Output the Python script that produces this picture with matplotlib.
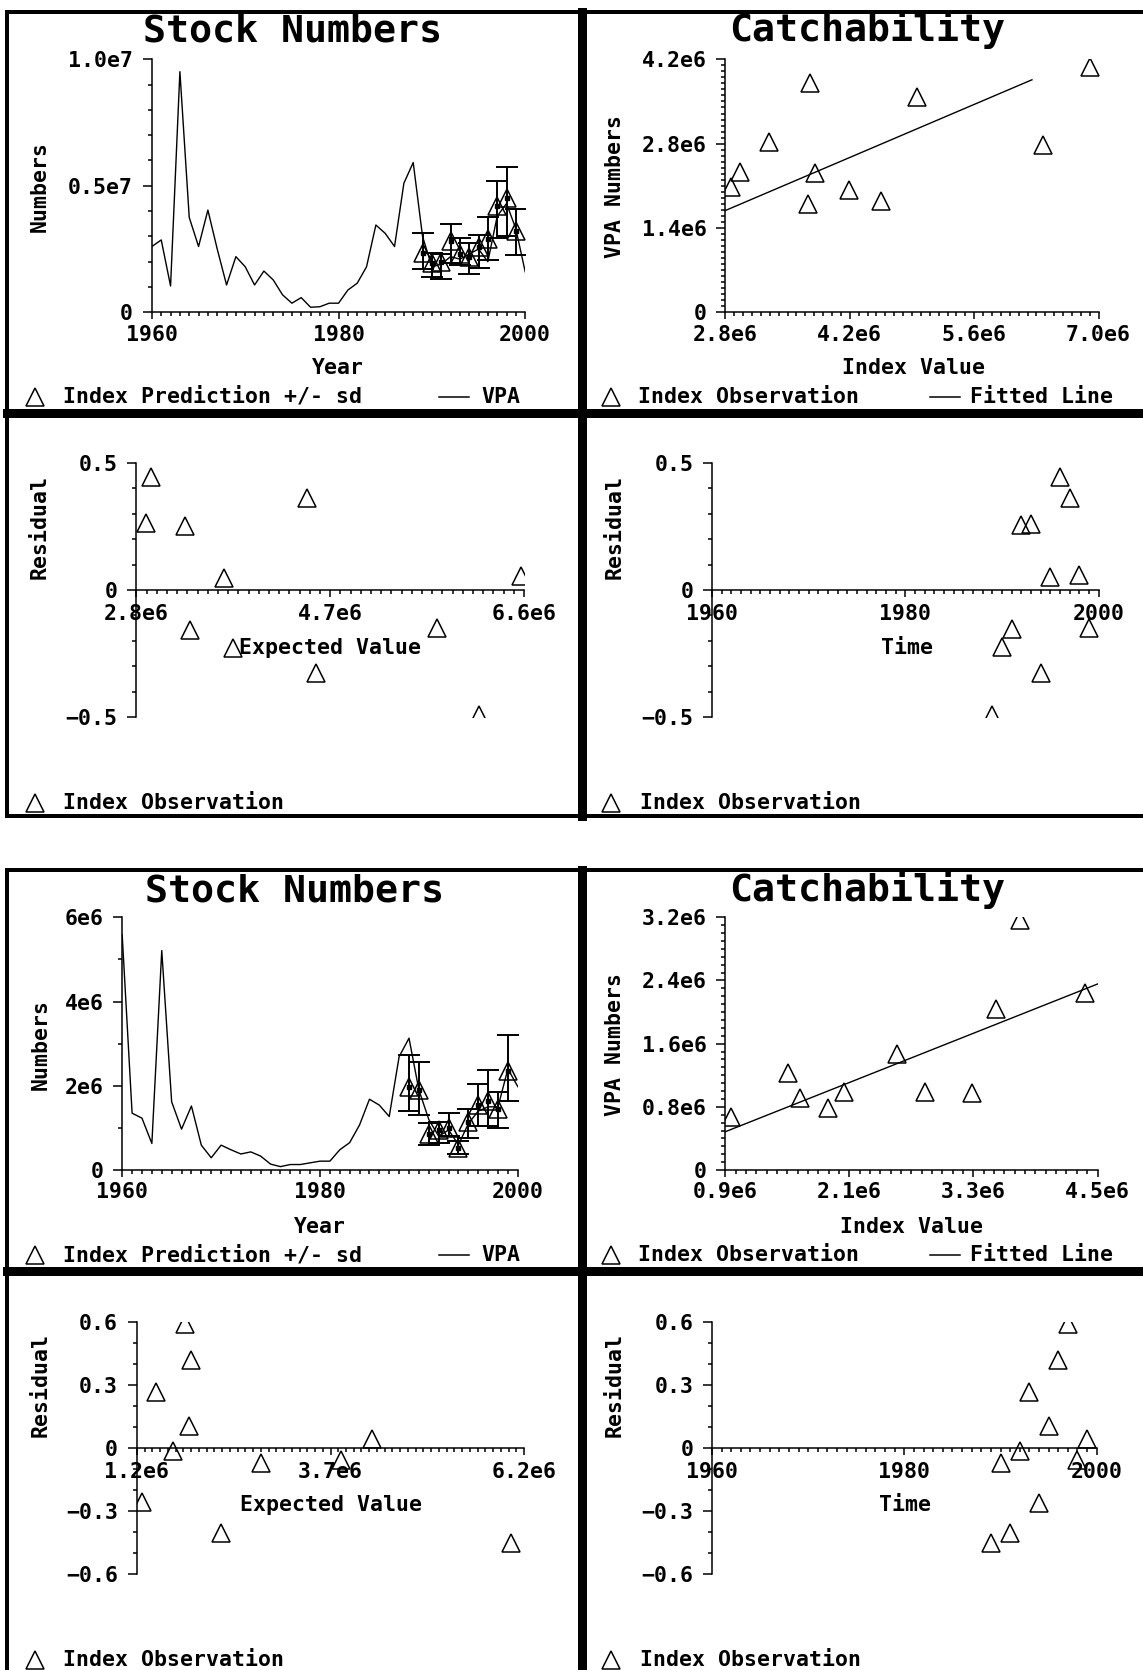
import matplotlib
matplotlib.use("Agg")
import matplotlib.pyplot as plt
from matplotlib.ticker import MultipleLocator
import numpy as np

plt.rcParams['font.family'] = ['DejaVu Sans Mono']
plt.rcParams['font.weight'] = 'bold'
plt.rcParams['axes.linewidth'] = 1.1

# ---------------- run 1 ----------------
years = list(range(1960, 2001))
vpa_1 = [2.60e6, 2.86e6, 1.04e6, 9.51e6, 3.75e6, 2.60e6, 4.04e6, 2.50e6, 1.08e6, 2.20e6,
         1.80e6, 1.08e6, 1.63e6, 1.28e6, 0.69e6, 0.36e6, 0.58e6, 0.20e6, 0.22e6, 0.36e6,
         0.36e6, 0.88e6, 1.15e6, 1.80e6, 3.45e6, 3.12e6, 2.60e6, 5.10e6, 5.92e6, 3.00e6,
         1.80e6, 1.90e6, 2.20e6, 2.10e6, 2.30e6, 2.50e6, 2.00e6, 3.80e6, 4.30e6, 3.30e6,
         1.60e6]
idx_years = list(range(1989, 2000))
pred_1 = [2.33e6, 1.95e6, 2.00e6, 2.80e6, 2.30e6, 2.20e6, 2.60e6, 2.90e6, 4.20e6, 4.50e6, 3.20e6]
pred_1_hi = [3.15e6, 2.35e6, 2.30e6, 3.50e6, 2.95e6, 2.75e6, 3.05e6, 3.75e6, 5.20e6, 5.75e6, 4.10e6]
pred_1_lo = [1.70e6, 1.40e6, 1.30e6, 1.95e6, 1.85e6, 1.50e6, 1.75e6, 2.05e6, 2.95e6, 3.00e6, 2.25e6]

index_1 = [2.861e6, 2.963e6, 3.289e6, 3.750e6, 3.730e6, 3.807e6, 4.195e6, 4.553e6, 4.961e6, 6.376e6, 6.898e6]
vpa_obs_1 = [2.086e6, 2.335e6, 2.833e6, 3.813e6, 1.793e6, 2.307e6, 2.031e6, 1.854e6, 3.580e6, 2.778e6, 4.078e6]
fit_x_1 = [2.80e6, 6.25e6]
fit_y_1 = [1.69e6, 3.86e6]

expected_1 = [2.891e6, 2.942e6, 3.279e6, 3.326e6, 3.664e6, 3.751e6, 4.477e6, 4.560e6, 5.747e6, 6.154e6, 6.571e6]
resid_exp_1 = [0.262, 0.445, 0.251, -0.157, 0.048, -0.229, 0.36, -0.327, -0.150, -0.49, 0.056]
resid_time_1 = [-0.49, -0.225, -0.154, 0.255, 0.259, -0.327, 0.052, 0.445, 0.36, 0.059, -0.150]

# ---------------- run 2 ----------------
vpa_2 = [5.58e6, 1.35e6, 1.23e6, 0.63e6, 5.21e6, 1.62e6, 0.97e6, 1.52e6, 0.59e6, 0.29e6,
         0.59e6, 0.48e6, 0.38e6, 0.43e6, 0.33e6, 0.14e6, 0.08e6, 0.13e6, 0.13e6, 0.17e6,
         0.21e6, 0.21e6, 0.48e6, 0.65e6, 1.07e6, 1.68e6, 1.54e6, 1.27e6, 2.69e6, 3.13e6,
         1.90e6, 1.20e6, 0.80e6, 0.95e6, 0.60e6, 1.10e6, 1.40e6, 1.50e6, 1.50e6, 2.40e6,
         1.98e6]
pred_2 = [1.98e6, 1.90e6, 0.85e6, 0.95e6, 1.00e6, 0.52e6, 1.15e6, 1.55e6, 1.65e6, 1.45e6, 2.35e6]
pred_2_hi = [2.72e6, 2.56e6, 1.12e6, 1.15e6, 1.35e6, 0.68e6, 1.45e6, 2.05e6, 2.38e6, 1.85e6, 3.20e6]
pred_2_lo = [1.39e6, 1.31e6, 0.60e6, 0.65e6, 0.80e6, 0.38e6, 0.75e6, 1.05e6, 1.05e6, 1.00e6, 1.65e6]

index_2 = [0.953e6, 1.506e6, 1.626e6, 1.888e6, 2.046e6, 2.565e6, 2.828e6, 3.283e6, 3.518e6, 3.750e6, 4.381e6]
vpa_obs_2 = [0.675e6, 1.224e6, 0.908e6, 0.781e6, 0.992e6, 1.469e6, 0.992e6, 0.979e6, 2.035e6, 3.17e6, 2.237e6]
fit_x_2 = [0.90e6, 4.50e6]
fit_y_2 = [0.485e6, 2.355e6]

expected_2 = [1.262e6, 1.449e6, 1.669e6, 1.822e6, 1.870e6, 1.894e6, 2.286e6, 2.803e6, 3.841e6, 4.238e6, 6.033e6]
resid_exp_2 = [-0.256, 0.265, -0.013, 0.59, 0.105, 0.42, -0.405, -0.072, -0.06, 0.042, -0.452]
resid_time_2 = [-0.452, -0.072, -0.405, -0.013, 0.265, -0.26, 0.105, 0.42, 0.59, -0.06, 0.042]

# tick labels
year_ticks = [1960, 1980, 2000]
stock_1_yticks = [0, 0.5e7, 1.0e7]
stock_1_ylabels = ['0', '0.5e7', '1.0e7']
stock_2_yticks = [0, 2e6, 4e6, 6e6]
stock_2_ylabels = ['0', '2e6', '4e6', '6e6']
catch_1_xticks = [2.8e6, 4.2e6, 5.6e6, 7.0e6]
catch_1_xlabels = ['2.8e6', '4.2e6', '5.6e6', '7.0e6']
catch_1_yticks = [0, 1.4e6, 2.8e6, 4.2e6]
catch_1_ylabels = ['0', '1.4e6', '2.8e6', '4.2e6']
catch_2_xticks = [0.9e6, 2.1e6, 3.3e6, 4.5e6]
catch_2_xlabels = ['0.9e6', '2.1e6', '3.3e6', '4.5e6']
catch_2_yticks = [0, 0.8e6, 1.6e6, 2.4e6, 3.2e6]
catch_2_ylabels = ['0', '0.8e6', '1.6e6', '2.4e6', '3.2e6']
resid_1_xticks = [2.8e6, 4.7e6, 6.6e6]
resid_1_xlabels = ['2.8e6', '4.7e6', '6.6e6']
resid_1_yticks = [-0.5, 0, 0.5]
resid_1_ylabels = ['\u22120.5', '0', '0.5']
resid_2_xticks = [1.2e6, 3.7e6, 6.2e6]
resid_2_xlabels = ['1.2e6', '3.7e6', '6.2e6']
resid_2_yticks = [-0.6, -0.3, 0, 0.3, 0.6]
resid_2_ylabels = ['\u22120.6', '\u22120.3', '0', '0.3', '0.6']

W, H = 1143, 1670
FS = 15.5
TITLE_FS = 27.5
TRI = dict(marker='^', ms=13, mfc='none', mec='black', mew=1.1, ls='none')

fig = plt.figure(figsize=(W / 100, H / 100), dpi=100)
bg = fig.add_axes([0, 0, 1, 1], zorder=0)
bg.set_xlim(0, W)
bg.set_ylim(H, 0)
bg.axis('off')


def panel(x0, x1, ytop, ybot, xlim, ylim):
    ax = fig.add_axes([x0 / W, 1 - ybot / H, (x1 - x0) / W, (ybot - ytop) / H], zorder=1)
    ax.set_facecolor('none')
    ax.set_xlim(xlim)
    ax.set_ylim(ylim)
    ax.spines[['top', 'right']].set_visible(False)
    ax.tick_params(which='both', direction='out', width=1.1, labelsize=FS)
    ax.tick_params(axis='y', which='major', length=6.5, pad=7)
    ax.tick_params(axis='y', which='minor', length=3.2)
    ax.tick_params(axis='x', which='major', length=5, pad=4)
    ax.tick_params(axis='x', which='minor', length=3)
    return ax


def label(x, y, s, size=FS, **kw):
    bg.text(x, y, s, fontsize=size, fontweight='bold', ha='center', va='center', **kw)


def title(x, y, s):
    bg.text(x, y, s, fontsize=TITLE_FS, fontweight='bold', ha='center', va='baseline')


def legend_tri(x, y):
    bg.plot([x], [y], **TRI)


def legend_text(x, y, s):
    bg.text(x, y, s, fontsize=FS, fontweight='bold', va='center')


def frames(top, mid, bottom):
    lw_out = 4 * 0.72
    lw_in = 9 * 0.72
    bg.plot([6.7, W + 10], [top, top], color='black', lw=lw_out, solid_capstyle='projecting')
    bg.plot([6.7, W + 10], [bottom, bottom], color='black', lw=lw_out, solid_capstyle='projecting')
    bg.plot([6.7, 6.7], [top, bottom], color='black', lw=lw_out, solid_capstyle='projecting')
    bg.plot([6.7, W + 10], [mid, mid], color='black', lw=lw_in)
    bg.plot([581.7, 581.7], [top, bottom], color='black', lw=lw_in)


def stock_panel(x0, x1, ytop, ybot, vpa, pred, hi, lo, yticks, ylabels, ymax, yminor):
    ax = panel(x0, x1, ytop, ybot, (1960, 2000), (0, ymax))
    ax.plot(years, vpa, color='black', lw=1.0)
    err = [np.array(pred) - np.array(lo), np.array(hi) - np.array(pred)]
    ax.errorbar(idx_years, pred, yerr=err, fmt='none', ecolor='black',
                elinewidth=1.4, capsize=8, capthick=1.4)
    ax.plot(idx_years, pred, **TRI)
    ax.plot(idx_years, pred, 's', ms=2.2, color='black')
    ax.set_xticks(year_ticks)
    ax.set_yticks(yticks, ylabels)
    ax.xaxis.set_minor_locator(MultipleLocator(1))
    ax.yaxis.set_minor_locator(MultipleLocator(yminor))
    return ax


def catch_panel(x0, x1, ytop, ybot, xs, ys, fx, fy, xlim, ylim, xt, xl, yt, yl):
    ax = panel(x0, x1, ytop, ybot, xlim, ylim)
    ax.plot(xs, ys, **TRI)
    ax.plot(fx, fy, color='black', lw=1.0)
    ax.set_xticks(xt, xl)
    ax.set_yticks(yt, yl)
    ax.xaxis.set_minor_locator(MultipleLocator(1e5))
    ax.yaxis.set_minor_locator(MultipleLocator(1e5))
    return ax


def resid_panel(x0, x1, ytop, ybot, xs, ys, xlim, ylim, xt, xl, yt, yl, xminor):
    ax = panel(x0, x1, ytop, ybot, xlim, ylim)
    ax.spines['bottom'].set_position(('data', 0))
    ax.plot(xs, ys, **TRI)
    ax.set_xticks(xt, xl)
    ax.set_yticks(yt, yl)
    ax.tick_params(axis='x', which='major', pad=5)
    ax.xaxis.set_minor_locator(MultipleLocator(xminor))
    ax.yaxis.set_minor_locator(MultipleLocator(0.1))
    return ax


# ---------- block 1 ----------
frames(11.5, 412.8, 816)
stock_panel(151.9, 525.2, 59.3, 312.3, vpa_1, pred_1, pred_1_hi, pred_1_lo,
            stock_1_yticks, stock_1_ylabels, 1.0e7, 1e6)
catch_panel(725.4, 1098.6, 59.3, 312.3, index_1, vpa_obs_1, fit_x_1, fit_y_1,
            (2.8e6, 7.0e6), (0, 4.2e6), catch_1_xticks, catch_1_xlabels,
            catch_1_yticks, catch_1_ylabels)
resid_panel(136.3, 524.1, 462.7, 717.3, expected_1, resid_exp_1, (2.8e6, 6.6e6), (-0.5, 0.5),
            resid_1_xticks, resid_1_xlabels, resid_1_yticks, resid_1_ylabels, 1e5)
resid_panel(712, 1098.6, 462.7, 717.3, idx_years, resid_time_1, (1960, 2000), (-0.5, 0.5),
            year_ticks, [str(y) for y in year_ticks], resid_1_yticks, resid_1_ylabels, 1)

title(292.6, 41, 'Stock Numbers')
title(866.7, 41, 'Catchability')
label(40, 187, 'Numbers', rotation=90)
label(614.9, 186.7, 'VPA Numbers', rotation=90)
label(337.8, 368.3, 'Year')
label(913.8, 368.3, 'Index Value')
label(40, 526.7, 'Residual', rotation=90)
label(614.9, 526.7, 'Residual', rotation=90)
label(329.6, 648.3, 'Expected Value')
label(906.5, 648.3, 'Time')

# ---------- block 2 ----------
frames(869.5, 1270.8, 1674)
stock_panel(122.2, 517.8, 917.3, 1170, vpa_2, pred_2, pred_2_hi, pred_2_lo,
            stock_2_yticks, stock_2_ylabels, 6e6, 1e6)
catch_panel(725.4, 1097.5, 917.3, 1170, index_2, vpa_obs_2, fit_x_2, fit_y_2,
            (0.9e6, 4.5e6), (0, 3.2e6), catch_2_xticks, catch_2_xlabels,
            catch_2_yticks, catch_2_ylabels)
resid_panel(137, 524, 1321.7, 1574, expected_2, resid_exp_2, (1.2e6, 6.2e6), (-0.6, 0.6),
            resid_2_xticks, resid_2_xlabels, resid_2_yticks, resid_2_ylabels, 1e5)
resid_panel(712, 1096.7, 1321.7, 1574, idx_years, resid_time_2, (1960, 2000), (-0.6, 0.6),
            year_ticks, [str(y) for y in year_ticks], resid_2_yticks, resid_2_ylabels, 1)

title(294.4, 901, 'Stock Numbers')
title(866.7, 901, 'Catchability')
label(40.7, 1045, 'Numbers', rotation=90)
label(614.9, 1045, 'VPA Numbers', rotation=90)
label(320.4, 1226.7, 'Year')
label(912, 1226.7, 'Index Value')
label(40.7, 1385, 'Residual', rotation=90)
label(614.9, 1385, 'Residual', rotation=90)
label(330.7, 1505, 'Expected Value')
label(904.7, 1505, 'Time')

# ---------- legends ----------
for dy in (0, 858.5):
    y = 396.7 + dy
    legend_tri(35, y)
    legend_text(63, y, 'Index Prediction +/- sd')
    bg.plot([439, 468.5], [y, y], color='black', lw=1.1)
    legend_text(481.5, y, 'VPA')
    legend_tri(611.2, y)
    legend_text(638.4, y, 'Index Observation')
    bg.plot([930, 960], [y, y], color='black', lw=1.1)
    legend_text(969.9, y, 'Fitted Line')

for yy in (803.3, 1660):
    legend_tri(35.2, yy)
    legend_text(63, yy, 'Index Observation')
    legend_tri(611.2, yy)
    legend_text(639.5, yy, 'Index Observation')

fig.savefig('out.png', dpi=100)
